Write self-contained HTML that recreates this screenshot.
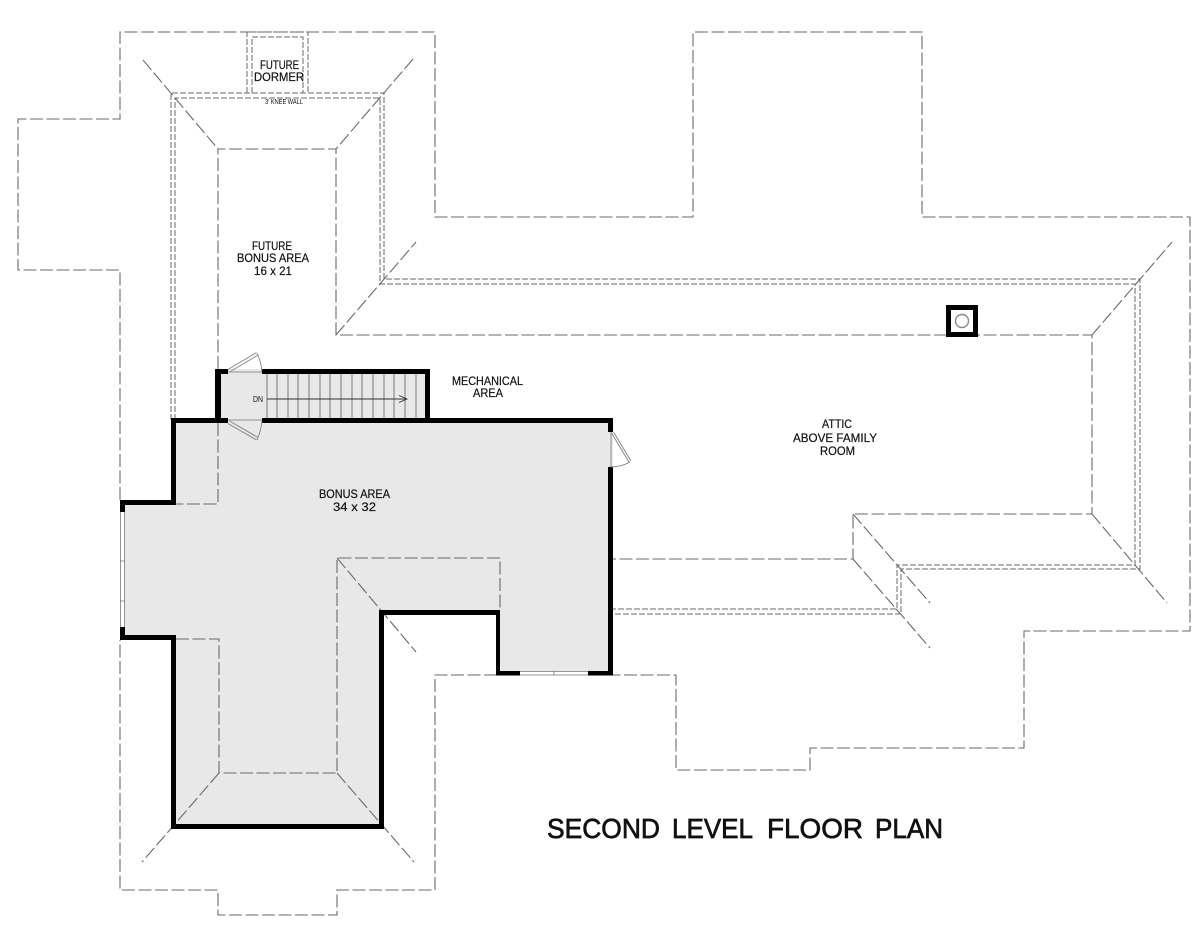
<!DOCTYPE html>
<html>
<head>
<meta charset="utf-8">
<title>Second Level Floor Plan</title>
<style>
html,body{margin:0;padding:0;background:#fff;}
svg{display:block;}
text{font-family:"Liberation Sans",sans-serif;fill:#111;text-anchor:start;}
.d{fill:none;stroke:#6a6a6a;stroke-width:1.1;stroke-dasharray:13 3.5;}
.s{fill:none;stroke:#6a6a6a;stroke-width:1;stroke-dasharray:6 2;}
.w{fill:#000;}
.t{fill:none;stroke:#777;stroke-width:.8;}
.l{font-size:12px;stroke:#111;stroke-width:.2;}
.h{font-size:28px;stroke:#111;stroke-width:.7;}
</style>
</head>
<body>
<svg width="1200" height="926" viewBox="0 0 1200 926" xmlns="http://www.w3.org/2000/svg">
<rect width="1200" height="926" fill="#fff"/>

<!-- floor fill -->
<path d="M216 369H430V418H613V675H496V612H382V827H172V638H120V500H172V418H216Z" fill="#e8e8e8"/>

<!-- outer roof dashed -->
<path class="d" d="M497 675H435V890H337V915H218V890H120V640"/>
<path class="d" d="M120 500V270H18V119H120V32H435V217H693V32H922V217H1190V631H1024V748H810V770H676V675H613"/>

<!-- dormer -->
<path class="s" d="M247 93V32H308V93"/>
<path class="s" d="M252 93V37H303V93"/>

<!-- knee walls -->
<path class="s" d="M171 420V93H384V279H1140V569H901V614H613"/>
<path class="s" d="M175 420V98H380V284H1135V565H897V609H613"/>

<!-- ceiling lines -->
<path class="d" d="M218 423V504H176"/>
<path class="d" d="M218 369V149H336V335H1092V514H853V559H613"/>
<path class="d" d="M176 639H219V773H337V558H500V610"/>

<!-- hips -->
<path class="d" d="M143 60L218 149"/>
<path class="d" d="M413 59L336 149"/>
<path class="d" d="M336 335L416 242"/>
<path class="d" d="M1092 335L1172 242"/>
<path class="d" d="M1092 514L1167 603"/>
<path class="d" d="M853 514L930 603"/>
<path class="d" d="M853 559L930 648"/>
<path class="d" d="M337 558L416 652"/>
<path class="d" d="M219 773L142 862"/>
<path class="d" d="M337 773L414 862"/>

<!-- stair treads -->
<path d="M267 373V418M277 373V418M288 373V418M298 373V418M309 373V418M320 373V418M330 373V418M341 373V418M352 373V418M362 373V418M373 373V418M384 373V418M394 373V418M405 373V418M416 373V418" stroke="#7a7a7a" stroke-width="1" fill="none"/>
<path d="M267 399H407M399 395.5L407 399L399 402.5" stroke="#333" stroke-width=".9" fill="none"/>

<!-- walls -->
<g class="w">
<rect x="215" y="369" width="13" height="5"/>
<rect x="215" y="369" width="6" height="52"/>
<rect x="262" y="369" width="168" height="5"/>
<rect x="425" y="369" width="5" height="52"/>
<rect x="171" y="418" width="57" height="5"/>
<rect x="262" y="418" width="351" height="5"/>
<rect x="171" y="418" width="5" height="86"/>
<rect x="120" y="500" width="56" height="5"/>
<rect x="120" y="500" width="5" height="12"/>
<rect x="120" y="627" width="5" height="13"/>
<rect x="120" y="635" width="56" height="5"/>
<rect x="171" y="635" width="5" height="194"/>
<rect x="171" y="824" width="213" height="5"/>
<rect x="379" y="610" width="5" height="219"/>
<rect x="379" y="610" width="121" height="5"/>
<rect x="496" y="610" width="4" height="65"/>
<rect x="496" y="671" width="24" height="4.5"/>
<rect x="588" y="671" width="25" height="4.5"/>
<rect x="608" y="418" width="5" height="14"/>
<rect x="608" y="467" width="5" height="208"/>
</g>

<!-- windows -->
<rect x="120" y="512" width="5" height="115" fill="#fff"/>
<path d="M120.5 512V627M124.5 512V627M120 561H125M120 601H125" class="t"/>
<rect x="520" y="671" width="68" height="4.5" fill="#fff"/>
<path d="M520 671.5H588M520 675H588M554 671V675" class="t"/>

<!-- doors -->
<path d="M228 372H262M228 420H262" class="t"/>
<path d="M228 369.5L256.5 352.5M229.5 372L258 355" stroke="#888" stroke-width="1" fill="none"/>
<path d="M257 353Q261 361 262 372" class="t"/>
<path d="M228 423.5L256.5 440M229.5 421L258 437.5" stroke="#888" stroke-width="1" fill="none"/>
<path d="M257 440Q261 431 262 421" class="t"/>
<path d="M611 432V467" class="t"/>
<path d="M611.5 433L629 462M613.5 432L631 461" stroke="#888" stroke-width="1" fill="none"/>
<path d="M630 462Q621 467 610 467" class="t"/>

<!-- chimney -->
<rect x="948.5" y="307.5" width="27" height="27" fill="#fff" stroke="#000" stroke-width="5"/>
<circle cx="962" cy="321" r="6.5" fill="#fff" stroke="#888" stroke-width="1.4"/>

<!-- labels -->
<text class="l" x="260" y="69" textLength="39" lengthAdjust="spacingAndGlyphs">FUTURE</text>
<text class="l" x="254" y="81" textLength="50" lengthAdjust="spacingAndGlyphs">DORMER</text>
<text x="265" y="104" font-size="7" textLength="38" lengthAdjust="spacingAndGlyphs">3' KNEE WALL</text>
<text class="l" x="252" y="250" textLength="40" lengthAdjust="spacingAndGlyphs">FUTURE</text>
<text class="l" x="237" y="262" textLength="72" lengthAdjust="spacingAndGlyphs">BONUS AREA</text>
<text class="l" x="254" y="275" textLength="38" lengthAdjust="spacingAndGlyphs">16 x 21</text>
<text class="l" x="452" y="385" textLength="71" lengthAdjust="spacingAndGlyphs">MECHANICAL</text>
<text class="l" x="473" y="397" textLength="30" lengthAdjust="spacingAndGlyphs">AREA</text>
<text x="253" y="402" font-size="8" textLength="10" lengthAdjust="spacingAndGlyphs">DN</text>
<text class="l" x="319" y="498" textLength="71" lengthAdjust="spacingAndGlyphs">BONUS AREA</text>
<text class="l" x="333" y="511" textLength="43" lengthAdjust="spacingAndGlyphs">34 x 32</text>
<text class="l" x="822" y="428" textLength="30" lengthAdjust="spacingAndGlyphs">ATTIC</text>
<text class="l" x="793" y="442" textLength="84" lengthAdjust="spacingAndGlyphs">ABOVE FAMILY</text>
<text class="l" x="820" y="455" textLength="35" lengthAdjust="spacingAndGlyphs">ROOM</text>
<text class="h" x="547" y="838" textLength="113" lengthAdjust="spacingAndGlyphs">SECOND</text>
<text class="h" x="672" y="838" textLength="81" lengthAdjust="spacingAndGlyphs">LEVEL</text>
<text class="h" x="767" y="838" textLength="96" lengthAdjust="spacingAndGlyphs">FLOOR</text>
<text class="h" x="875" y="838" textLength="68" lengthAdjust="spacingAndGlyphs">PLAN</text>
</svg>
</body>
</html>
